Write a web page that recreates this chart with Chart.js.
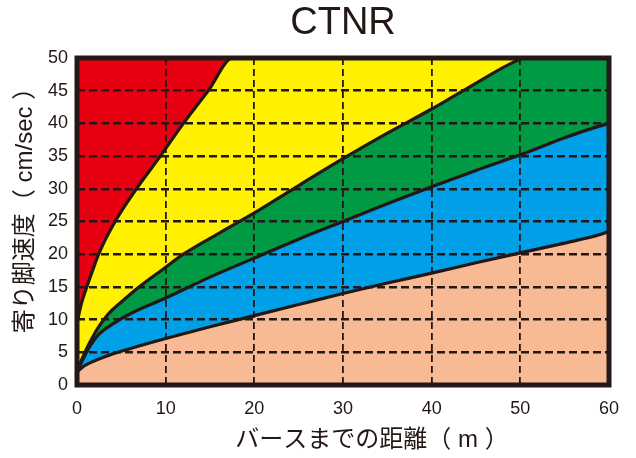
<!DOCTYPE html>
<html>
<head>
<meta charset="utf-8">
<script src="https://cdn.jsdelivr.net/npm/chart.js@4/dist/chart.umd.min.js"></script>
<style>
  html, body { margin: 0; padding: 0; background: #fff; }
  #wrap { width: 636px; height: 458px; }
</style>
</head>
<body>
<div id="wrap"><canvas id="chart" width="636" height="458"></canvas></div>
<script>
// boundary curves, [distance m, speed cm/sec]
const redYellow = [[0, 9.5], [0.5, 12.5], [1.1, 15], [1.7, 17.3], [2.5, 20.2], [4.3, 25], [6.7, 30], [9.4, 35], [12, 40], [14.8, 45], [17.6, 50], [60, 50]];
const yellowGreen = [[0, 2], [0.5, 3.8], [1, 5.3], [1.6, 6.9], [2.3, 8.6], [3.5, 10.8], [5, 12.7], [7, 15], [10, 18], [12, 20], [16, 23.2], [20, 26.3], [25, 30.5], [30, 34.6], [35, 38.5], [40, 42.2], [44.3, 45.6], [49.6, 49.6], [50.5, 50], [60, 50]];
const greenBlue = [[0, 2], [0.7, 4], [1.5, 6], [2.5, 7.8], [4, 9.3], [6, 10.9], [10, 13.3], [15, 16.5], [20, 19.4], [25, 22.3], [30, 25], [35, 27.7], [40, 30.3], [45, 32.8], [50, 35.2], [55, 37.8], [58, 39.2], [60, 40]];
const bluePink = [[0, 2], [0.8, 2.9], [1.8, 3.6], [3.7, 4.6], [5.6, 5.4], [10, 7.1], [15, 8.9], [20, 10.6], [25, 12.3], [30, 14], [35, 15.6], [40, 17.1], [45, 18.7], [50, 20.2], [55, 21.7], [59, 23], [60, 23.5]];

const chartTitle = "CTNR";
const xTitle = "バースまでの距離（ m ）";
const yTitle = "寄り脚速度（ cm/sec ）";

const ink = "#231815";
const fontFamily = "'Liberation Sans', 'Noto Sans CJK JP', sans-serif";
const colors = { red: "#E60012", yellow: "#FFF100", green: "#009944", blue: "#00A0E9", pink: "#F7BA94" };

const toPoints = (pairs) => pairs.map(([x, y]) => ({ x, y }));

function band(points, color, order) {
  return {
    data: toPoints(points),
    backgroundColor: color,
    borderColor: ink,
    borderWidth: 3.2,
    pointRadius: 0,
    cubicInterpolationMode: "monotone",
    fill: "start",
    order,
  };
}

const plotDecor = {
  id: "plotDecor",
  beforeDatasetsDraw(chart) {
    const { ctx, chartArea: a } = chart;
    ctx.save();
    ctx.fillStyle = colors.red;
    ctx.fillRect(a.left, a.top, a.right - a.left, a.bottom - a.top);
    ctx.restore();
  },
  afterDraw(chart) {
    const { ctx, chartArea: a } = chart;
    ctx.save();
    ctx.strokeStyle = ink;
    ctx.lineWidth = 5;
    ctx.lineJoin = "miter";
    ctx.strokeRect(a.left, a.top, a.right - a.left, a.bottom - a.top);

    ctx.fillStyle = ink;
    ctx.font = "24px " + fontFamily;
    ctx.textAlign = "center";
    ctx.textBaseline = "middle";
    ctx.fillText(xTitle, (a.left + a.right) / 2 + 29, 440);
    ctx.translate(25, (a.top + a.bottom) / 2 - 17);
    ctx.rotate(-Math.PI / 2);
    ctx.fillText(yTitle, 0, 0);
    ctx.restore();
  },
};

new Chart(document.getElementById("chart"), {
  type: "line",
  data: {
    datasets: [
      band(redYellow, colors.yellow, 4),
      band(yellowGreen, colors.green, 3),
      band(greenBlue, colors.blue, 2),
      band(bluePink, colors.pink, 1),
    ],
  },
  options: {
    responsive: false,
    animation: false,
    layout: { padding: { left: 0, right: 27, top: 0, bottom: 0 } },
    plugins: {
      legend: { display: false },
      tooltip: { enabled: false },
      title: {
        display: true,
        text: chartTitle,
        color: ink,
        fullSize: false,
        font: { family: fontFamily, size: 38, weight: "normal" },
        padding: { top: 1, bottom: 11.4 },
      },
    },
    scales: {
      x: {
        type: "linear",
        min: 0,
        max: 60,
        afterFit: (scale) => { scale.height = 73; },
        ticks: { stepSize: 10, color: ink, padding: 13, font: { family: fontFamily, size: 18 } },
        grid: { color: ink, lineWidth: 1.8, drawTicks: false, z: 1 },
        border: { display: false, dash: [7, 4] },
      },
      y: {
        type: "linear",
        min: 0,
        max: 50,
        afterFit: (scale) => { scale.width = 77; },
        ticks: { stepSize: 5, color: ink, padding: 9, font: { family: fontFamily, size: 18 } },
        grid: { color: ink, lineWidth: 2.5, drawTicks: false, z: 1 },
        border: { display: false, dash: [8, 4] },
      },
    },
  },
  plugins: [plotDecor],
});
</script>
</body>
</html>
